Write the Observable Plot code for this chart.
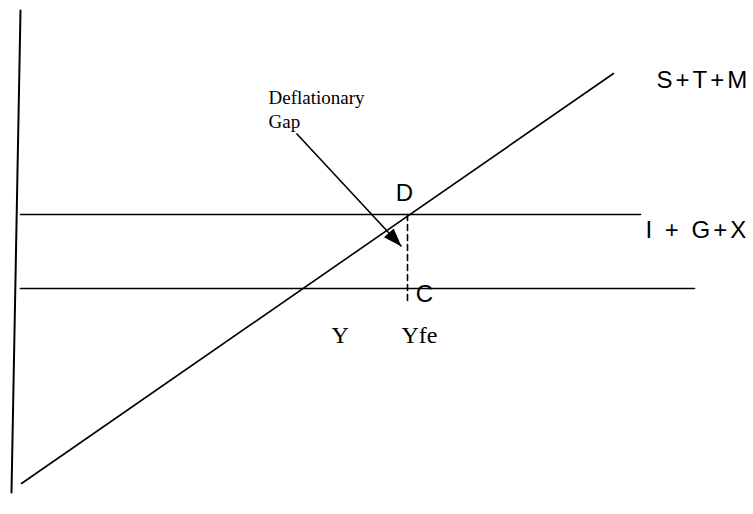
<!DOCTYPE html>
<html>
<head>
<meta charset="utf-8">
<script src="https://cdn.jsdelivr.net/npm/d3@7"></script>
<script src="https://cdn.jsdelivr.net/npm/@observablehq/plot@0.6"></script>
<style>
  html, body { margin: 0; padding: 0; background: #fff; }
  #chart svg { display: block; }
</style>
</head>
<body>
<div id="chart"></div>
<script>
// Diagram coordinates: x = income (left→right), y = level (bottom→top)
const vAxis = [{x: 20, y: 504}, {x: 11, y: 22}];
const withdrawals = [{x: 21, y: 31}, {x: 613, y: 441}];           // S+T+M
const injections = [{x: 20, y: 300}, {x: 640, y: 300}];           // I + G+X
const lowerLine = [{x: 20, y: 226}, {x: 694, y: 226}];
const gapLine = [{x: 407, y: 300}, {x: 407, y: 210}];             // D down to C at Yfe
const arrow = [{x1: 296, y1: 381, x2: 401, y2: 268}];

const pointLabels = [
  {x: 404, y: 314, text: "D"},
  {x: 424, y: 213, text: "C"}
];
const lineLabels = [
  {x: 656, y: 427, text: "S+T+M"},
  {x: 645, y: 277, text: "I + G+X"}
];
const incomeLabels = [
  {x: 331, y: 172, text: "Y"},
  {x: 401, y: 172, text: "Yfe"}
];
const gapLabel = [
  {x: 268, y: 411, text: "Deflationary"},
  {x: 268, y: 387, text: "Gap"}
];

// narrow filled arrowhead, tip at origin pointing +x
const headSymbol = {
  draw(ctx, size) {
    const s = Math.sqrt(size);
    ctx.moveTo(0, 0);
    ctx.lineTo(-s * 1.75, -s * 0.62);
    ctx.lineTo(-s * 1.75, s * 0.62);
    ctx.closePath();
  }
};
const a = arrow[0];
const angle = Math.atan2(-(a.y2 - a.y1), a.x2 - a.x1) * 180 / Math.PI;

const sans = "Liberation Sans, Arial, sans-serif";
const serif = "Liberation Serif, Times New Roman, serif";

const plot = Plot.plot({
  width: 753,
  height: 514,
  margin: 0,
  x: {domain: [0, 753], range: [0, 753], axis: null},
  y: {domain: [0, 514], range: [514, 0], axis: null},
  marks: [
    Plot.line(vAxis, {x: "x", y: "y", stroke: "#000", strokeWidth: 2}),
    Plot.line(withdrawals, {x: "x", y: "y", stroke: "#000", strokeWidth: 1.6}),
    Plot.line(injections, {x: "x", y: "y", stroke: "#000", strokeWidth: 1.6}),
    Plot.line(lowerLine, {x: "x", y: "y", stroke: "#000", strokeWidth: 1.6}),
    Plot.line(gapLine, {x: "x", y: "y", stroke: "#000", strokeWidth: 1.6, strokeDasharray: "6,4"}),
    Plot.link(arrow, {x1: "x1", y1: "y1", x2: "x2", y2: "y2", stroke: "#000", strokeWidth: 1.6}),
    Plot.dot(arrow, {x: "x2", y: "y2", symbol: headSymbol, r: 6, fill: "#000", stroke: null, rotate: angle}),
    Plot.text(pointLabels, {x: "x", y: "y", text: "text", textAnchor: "middle", lineAnchor: "bottom",
      fontFamily: sans, fontSize: 24, fill: "#000"}),
    Plot.text(lineLabels, {x: "x", y: "y", text: "text", textAnchor: "start", lineAnchor: "bottom",
      fontFamily: sans, fontSize: 24, fill: "#000"}),
    Plot.text(incomeLabels, {x: "x", y: "y", text: "text", textAnchor: "start", lineAnchor: "bottom",
      fontFamily: serif, fontSize: 24, fill: "#000"}),
    Plot.text(gapLabel, {x: "x", y: "y", text: "text", textAnchor: "start", lineAnchor: "bottom",
      fontFamily: serif, fontSize: 19, fill: "#000"})
  ]
});
// wider tracking on the schedule labels, as in the original
d3.select(plot).selectAll("text")
  .filter(function() { return lineLabels.some(d => d.text === this.textContent); })
  .attr("letter-spacing", 3);
document.getElementById("chart").appendChild(plot);
</script>
</body>
</html>
